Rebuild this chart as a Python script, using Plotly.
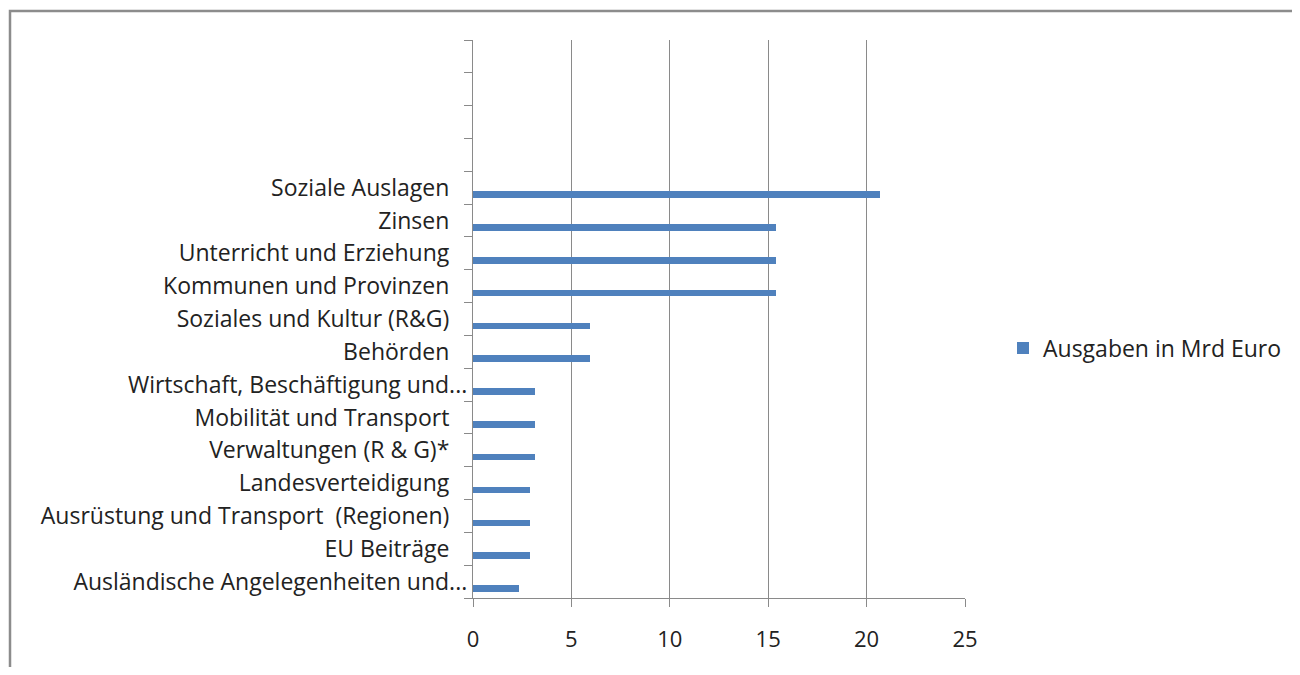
import plotly.graph_objects as go

# Data (bottom to top, as in the source chart); top four slots are empty
PAD = "\u00a0\u00a0\u00a0"
categories = [
    "Ausländische Angelegenheiten und...",
    "EU Beiträge" + PAD,
    "Ausrüstung und Transport \u00a0(Regionen)" + PAD,
    "Landesverteidigung" + PAD,
    "Verwaltungen (R & G)*" + PAD,
    "Mobilität und Transport" + PAD,
    "Wirtschaft, Beschäftigung und...",
    "Behörden" + PAD,
    "Soziales und Kultur (R&G)" + PAD,
    "Kommunen und Provinzen" + PAD,
    "Unterricht und Erziehung" + PAD,
    "Zinsen" + PAD,
    "Soziale Auslagen" + PAD,
    "\u00a0", "\u00a0\u00a0", "\u00a0\u00a0\u00a0", "\u00a0\u00a0\u00a0\u00a0",
]
values = [2.35, 2.9, 2.9, 2.9, 3.15, 3.15, 3.15, 5.95, 5.95, 15.4, 15.4, 15.4, 20.7,
          None, None, None, None]
series_name = "Ausgaben in Mrd Euro"
x_ticks = [0, 5, 10, 15, 20, 25]

FONT = "Open Sans"
TXT = "#222222"
GRID = "#8a8a8a"
FS = 23

fig = go.Figure()
fig.add_trace(go.Bar(
    x=values, y=categories, orientation="h", name=series_name,
    marker=dict(color="#4F81BD", line=dict(width=0)),
    width=0.2, offset=-0.31, showlegend=True,
))

# page is shown with an 8px body offset; keep figure inside the viewport
OFF = 8
L, T = 473 - OFF, 40 - OFF
RIGHT, BOTTOM = 965 - OFF, 598 - OFF
W, H = 1300 - 2 * OFF, 675 - 2 * OFF
R, B = W - RIGHT, H - BOTTOM
pw = RIGHT - L
ph = BOTTOM - T

fig.update_layout(
    width=W, height=H, autosize=False,
    margin=dict(l=L, r=R, t=T, b=B, pad=0, autoexpand=False),
    paper_bgcolor="white", plot_bgcolor="white",
    font=dict(family=FONT, size=FS, color=TXT),
    xaxis=dict(
        range=[0, 25], tickvals=x_ticks, showgrid=True, gridcolor=GRID, gridwidth=1.3,
        zeroline=False, showline=True, linecolor=GRID, linewidth=1.3,
        ticks="outside", ticklen=8, tickcolor=GRID, tickwidth=1.3,
        tickfont=dict(family=FONT, size=22, color=TXT), ticklabelstandoff=13,
        fixedrange=True,
    ),
    yaxis=dict(
        type="category", categoryorder="array", categoryarray=categories,
        range=[-0.5, len(categories) - 0.5],
        showgrid=False, zeroline=False, showline=True, linecolor=GRID, linewidth=1.3,
        ticks="outside", ticklen=8, tickcolor=GRID, tickwidth=1.3, tickson="boundaries",
        tickfont=dict(family=FONT, size=FS, color=TXT),
        fixedrange=True,
    ),
    legend=dict(
        x=(1003 - OFF - L) / pw, xanchor="left", y=(598 - 348) / ph, yanchor="middle",
        font=dict(family=FONT, size=FS, color=TXT), bgcolor="rgba(0,0,0,0)",
    ),
    bargap=0,
    shapes=[dict(
        type="rect", xref="paper", yref="paper",
        x0=(10 - OFF - L) / pw, x1=(W + 300 - L) / pw,
        y0=(BOTTOM - (H + 300)) / ph, y1=(BOTTOM - (11 - OFF)) / ph,
        line=dict(color="#8c8c8c", width=2.5), fillcolor="rgba(0,0,0,0)", layer="below",
    )],
)

fig.write_html("out.html")
